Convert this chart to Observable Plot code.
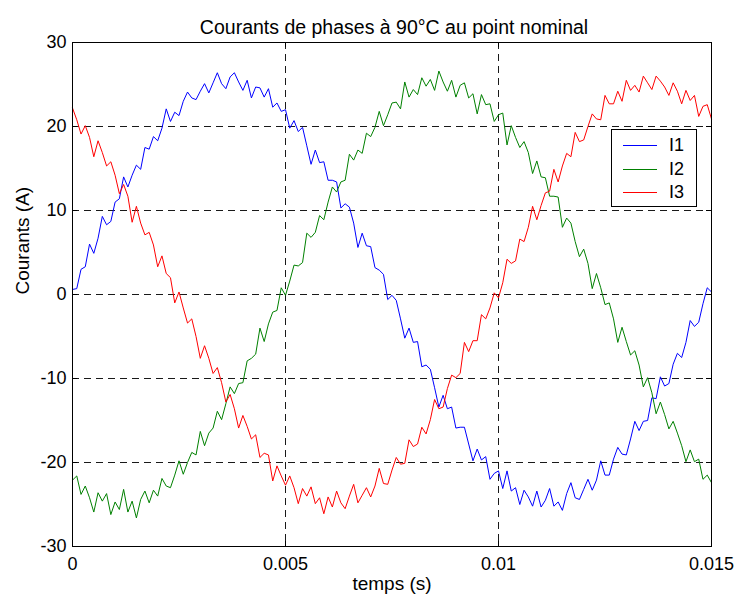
<!DOCTYPE html>
<html>
<head>
<meta charset="utf-8">
<script src="https://cdn.jsdelivr.net/npm/d3@7"></script>
<script src="https://cdn.jsdelivr.net/npm/@observablehq/plot@0.6"></script>
<style>
  html, body { margin: 0; padding: 0; background: #fff; }
  #wrap { position: relative; width: 735px; height: 600px; }
  #legend { position: absolute; left: 611px; top: 129px; width: 84px; height: 76px;
    border: 1px solid #000; background: #fff; font-family: "Liberation Sans", Arial, sans-serif; font-size: 18px; }
  .row { position: absolute; left: 0; height: 20px; width: 84px; }
  .row .sw { position: absolute; left: 11px; width: 34px; top: 10px; height: 1px; }
  .row .lb { position: absolute; left: 57px; top: 0; line-height: 20px; color: #000; }
</style>
</head>
<body>
<div id="wrap"></div>
<script>
const title = "Courants de phases à 90°C au point nominal";
const xLabel = "temps (s)";
const yLabel = "Courants (A)";
const seriesNames = ["I1", "I2", "I3"];
const seriesColors = ["#0000ff", "#008000", "#ff0000"];
const xTicks = [0, 0.005, 0.01, 0.015];
const xTickLabels = ["0", "0.005", "0.01", "0.015"];
const yTicks = [-30, -20, -10, 0, 10, 20, 30];
const yTickLabels = ["-30", "-20", "-10", "0", "10", "20", "30"];
const dt = 0.0001; // sampling step (s)

const i1 = [0.6,0.7,3.0,3.3,6.0,4.9,6.7,9.3,8.3,8.7,
11.0,11.4,14.0,12.8,14.2,15.4,14.9,17.5,17.3,18.8,
18.3,19.8,22.1,20.6,21.7,21.3,23.0,24.1,23.4,23.2,
24.2,25.1,24.0,25.2,26.4,25.1,24.5,25.9,26.4,25.3,
24.3,25.5,23.4,24.7,24.6,23.5,24.5,22.3,22.8,21.8,
22.0,19.8,20.7,19.4,19.9,17.7,15.5,17.2,15.7,15.8,
13.6,13.6,13.4,10.3,10.8,10.4,8.5,5.6,7.3,5.8,
5.7,3.2,2.9,2.4,-0.6,-0.1,-0.7,-2.9,-5.2,-4.0,
-5.7,-5.6,-8.6,-8.4,-8.9,-11.1,-13.4,-12.0,-13.6,-13.4,
-15.9,-15.8,-15.8,-17.8,-19.8,-18.4,-19.7,-19.3,-22.0,-21.3,
-21.0,-23.1,-21.0,-23.4,-23.0,-25.0,-23.3,-24.1,-25.2,-23.4,
-25.3,-24.5,-23.1,-25.2,-24.7,-25.7,-23.7,-22.4,-24.2,-24.4,
-23.2,-22.0,-23.3,-22.1,-19.8,-21.5,-21.5,-19.6,-18.2,-19.0,
-19.1,-17.2,-15.1,-16.2,-15.1,-15.0,-12.3,-12.4,-9.8,-10.9,
-10.6,-8.3,-7.0,-7.5,-5.7,-3.1,-3.8,-3.3,-1.1,0.8,
0.3];

const i2 = [-22.1,-21.6,-23.8,-22.8,-24.2,-25.9,-23.6,-24.6,-23.7,-26.2,
-24.7,-25.6,-23.2,-25.9,-24.6,-26.6,-24.4,-23.4,-24.8,-23.3,
-24.0,-21.9,-22.8,-23.0,-21.5,-19.8,-21.4,-20.0,-18.8,-19.1,
-16.3,-18.0,-16.5,-15.9,-13.9,-14.9,-13.0,-11.0,-11.8,-10.6,
-10.5,-7.9,-7.6,-7.1,-4.0,-5.6,-3.5,-2.1,-1.9,0.8,
-0.1,1.6,3.5,3.4,3.8,7.3,6.8,7.4,9.4,8.9,
11.0,12.8,12.2,13.4,13.6,16.7,16.0,17.2,16.8,19.2,
18.8,19.9,21.8,20.1,21.4,22.8,22.9,22.1,25.3,23.5,
24.4,23.8,25.8,24.8,25.6,24.3,26.6,25.3,24.2,25.5,
23.5,24.9,25.2,23.4,23.9,21.5,23.8,22.6,22.7,20.6,
21.4,21.6,17.8,20.1,18.7,17.5,18.2,16.9,14.4,15.9,
14.0,13.9,11.7,11.7,11.6,8.0,9.1,8.5,6.3,4.5,
5.4,3.7,0.7,2.5,0.8,-1.2,-1.0,-2.9,-5.7,-3.9,
-5.6,-7.2,-6.7,-8.4,-11.0,-9.9,-11.7,-14.2,-12.8,-14.3,
-16.0,-15.1,-16.5,-18.0,-19.9,-18.5,-19.9,-19.6,-22.0,-21.5,
-22.4];

const i3 = [22.2,20.8,19.1,20.1,18.7,16.4,18.3,16.9,15.3,15.8,
14.2,12.0,13.1,11.7,8.6,10.5,8.5,7.1,7.4,5.9,
3.3,4.6,2.5,2.0,-1.0,0.3,-1.6,-3.4,-2.9,-5.0,
-7.6,-6.1,-7.6,-9.4,-8.7,-10.5,-12.8,-11.9,-13.6,-15.9,
-14.4,-15.7,-17.2,-16.7,-19.4,-18.9,-19.1,-22.2,-20.4,-21.6,
-22.7,-21.6,-23.0,-24.9,-23.1,-24.0,-22.9,-24.9,-24.2,-26.1,
-24.1,-25.3,-23.4,-24.8,-25.5,-24.0,-22.6,-24.8,-23.9,-23.0,
-24.1,-22.8,-20.7,-22.5,-22.6,-20.9,-19.4,-20.2,-20.1,-17.3,
-18.1,-17.8,-15.8,-16.6,-14.9,-12.5,-13.6,-13.4,-11.2,-9.6,
-9.9,-9.4,-5.7,-6.8,-5.5,-5.5,-2.4,-2.9,-1.6,0.2,
-0.4,1.4,4.2,3.7,4.0,6.6,6.3,8.0,10.5,8.9,
10.6,12.1,12.3,14.9,13.4,15.3,16.8,16.4,19.3,18.2,
18.4,20.0,21.5,20.9,20.8,23.7,22.7,22.7,24.2,23.0,
25.5,24.3,24.9,24.1,26.0,25.2,24.4,26.0,25.4,24.7,
23.7,25.2,24.2,22.7,24.3,23.1,23.7,21.2,22.4,22.6,
20.9];

const series = [i1, i2, i3].map(arr => arr.map((v, k) => ({t: k * dt, v})));
const gridX = xTicks.slice(1, -1);
const gridY = yTicks.slice(1, -1);

const W = 735, H = 600, mL = 72, mR = 24, mT = 42, mB = 54;
const innerW = W - mL - mR, innerH = H - mT - mB;
const tickLen = 5;
const font = '"Liberation Sans", Arial, Helvetica, sans-serif';

const chart = Plot.plot({
  width: W, height: H,
  marginLeft: mL, marginRight: mR, marginTop: mT, marginBottom: mB,
  style: {fontFamily: font, fontSize: "18px", background: "#fff", color: "#000", overflow: "visible"},
  x: {domain: [0, 0.015]},
  y: {domain: [-30, 30]},
  marks: [
    Plot.ruleX(gridX, {x: d => d, stroke: "#000", strokeWidth: 1, strokeDasharray: "7,5", strokeOpacity: 0.9}),
    Plot.ruleY(gridY, {y: d => d, stroke: "#000", strokeWidth: 1, strokeDasharray: "7,5", strokeOpacity: 0.9}),
    ...series.map((s, i) => Plot.line(s, {x: "t", y: "v", stroke: seriesColors[i], strokeWidth: 1, curve: "linear"})),
    Plot.frame({stroke: "#000", strokeWidth: 1}),
    Plot.tickX(xTicks, {x: d => d, stroke: "#000", insetTop: innerH - tickLen}),
    Plot.tickX(xTicks, {x: d => d, stroke: "#000", insetBottom: innerH - tickLen}),
    Plot.tickY(yTicks, {y: d => d, stroke: "#000", insetRight: innerW - tickLen}),
    Plot.tickY(yTicks, {y: d => d, stroke: "#000", insetLeft: innerW - tickLen}),
    Plot.axisX({ticks: xTicks, tickSize: 0, tickPadding: 11, tickFormat: d => xTickLabels[xTicks.indexOf(d)], label: null, fontSize: 18}),
    Plot.axisY({ticks: yTicks, tickSize: 0, tickPadding: 6, tickFormat: d => yTickLabels[yTicks.indexOf(d)], label: null, fontSize: 18}),
    Plot.text([title], {frameAnchor: "top", dy: -22, dx: 2, text: d => d, fontSize: 19.5, fill: "#000"}),
    Plot.text([xLabel], {frameAnchor: "bottom", dy: 43, text: d => d, fontSize: 19, fill: "#000"}),
    Plot.text([yLabel], {frameAnchor: "left", dx: -50, rotate: -90, text: d => d, fontSize: 19, fill: "#000"})
  ]
});

const wrap = document.getElementById("wrap");
wrap.appendChild(chart);

const legend = document.createElement("div");
legend.id = "legend";
seriesNames.forEach((name, i) => {
  const row = document.createElement("div");
  row.className = "row";
  row.style.top = (5 + i * 23.5) + "px";
  const sw = document.createElement("div");
  sw.className = "sw";
  sw.style.background = seriesColors[i];
  const lb = document.createElement("div");
  lb.className = "lb";
  lb.textContent = name;
  row.appendChild(sw); row.appendChild(lb);
  legend.appendChild(row);
});
wrap.appendChild(legend);
</script>
</body>
</html>
